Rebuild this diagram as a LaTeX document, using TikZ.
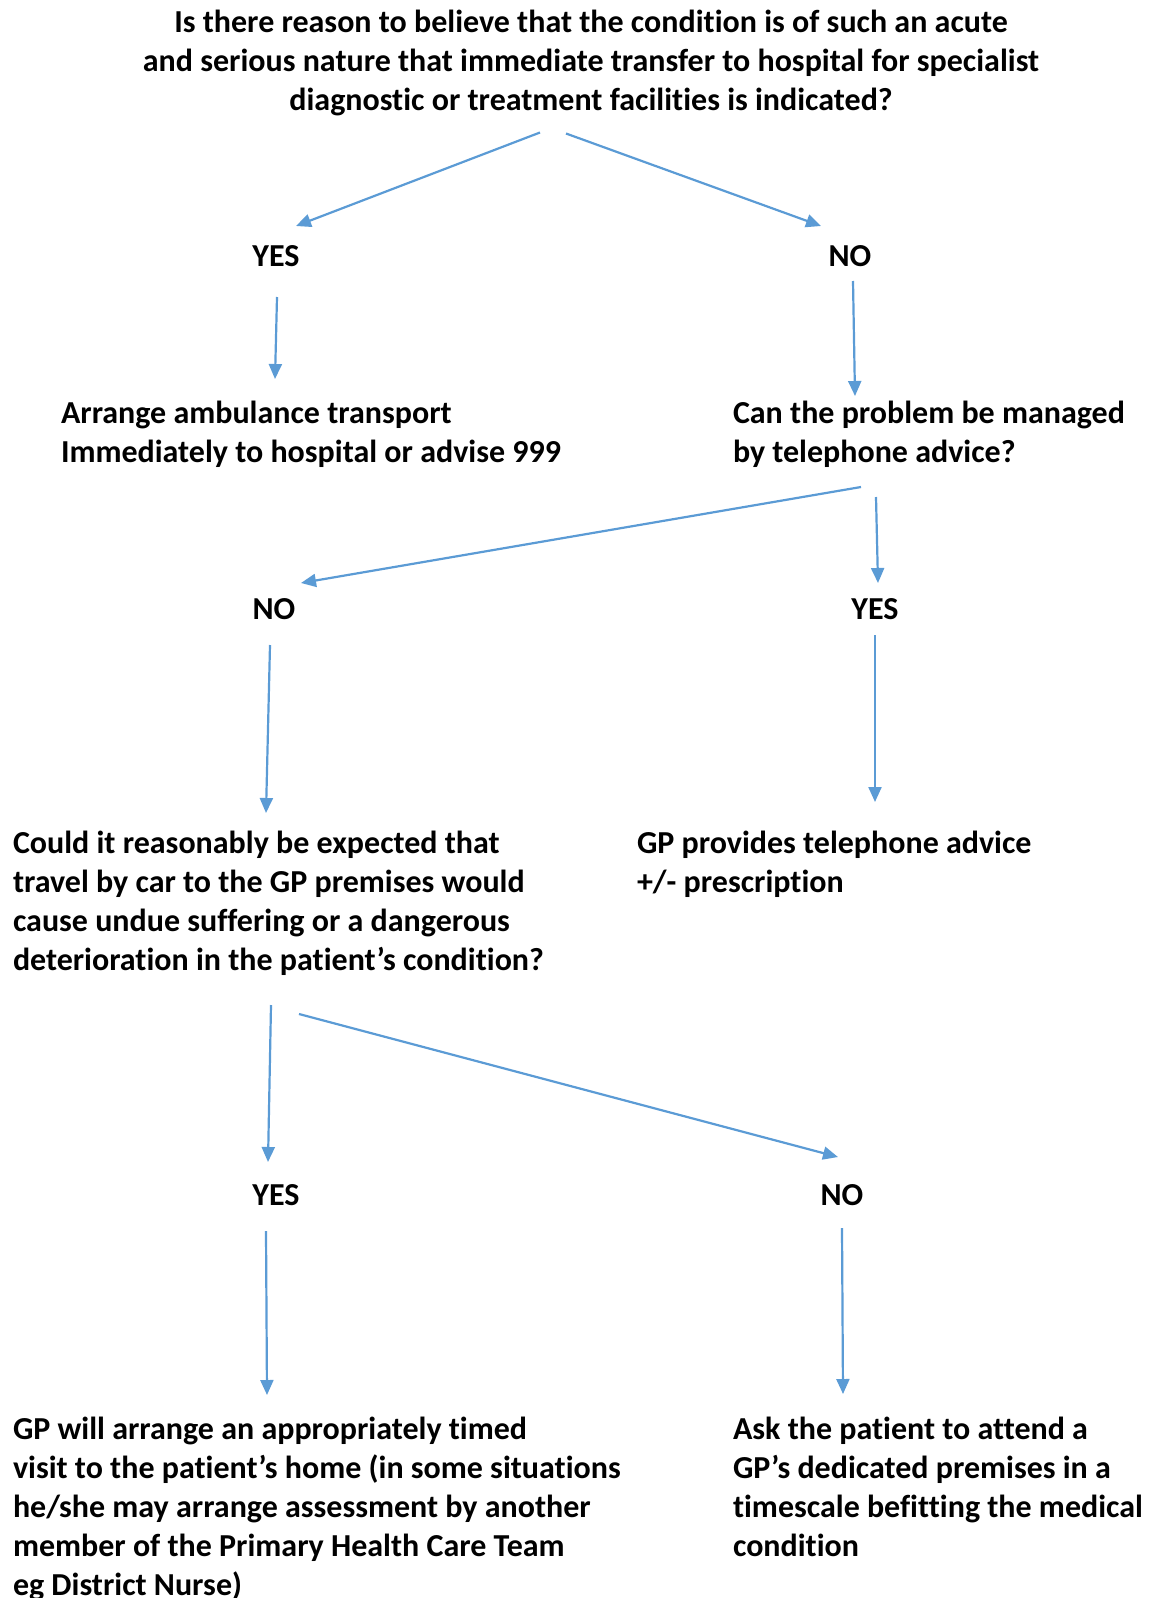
\documentclass[tikz,border=0pt]{standalone}
\usepackage{fontspec}
\setmainfont{Carlito}[Ligatures=NoCommon]
\usetikzlibrary{arrows.meta}
\definecolor{arrowblue}{HTML}{5B9BD5}
\tikzset{
  txt/.style={inner sep=0pt, outer sep=0pt, font=\fontsize{32}{39.1}\selectfont\bfseries},
  lbl/.style={txt, anchor=base},
  para/.style={txt, anchor=base west},
  conn/.style={draw=arrowblue, line width=2.2pt, -{Triangle[length=15pt,width=13pt]}}
}
\begin{document}
\begin{tikzpicture}[x=1pt,y=-1pt]
\useasboundingbox (0,0) rectangle (1153,1598);
% texts
\node[txt, anchor=base] (q1) at (591,32) {\begin{tabular}[t]{@{}c@{}}Is there reason to believe that the condition is of such an acute\\and serious nature that immediate transfer to hospital for specialist\\diagnostic or treatment facilities is indicated?\end{tabular}};
\node[lbl] (yes1) at (276,266) {YES};
\node[lbl] (no1) at (850,266) {NO};
\node[para] (amb) at (61,423) {\begin{tabular}[t]{@{}l@{}}Arrange ambulance transport\\Immediately to hospital or advise 999\end{tabular}};
\node[para] (q2) at (733,423) {\begin{tabular}[t]{@{}l@{}}Can the problem be managed\\by telephone advice?\end{tabular}};
\node[lbl] (no2) at (274,619) {NO};
\node[lbl] (yes2) at (875,619) {YES};
\node[para] (q3) at (13,853) {\begin{tabular}[t]{@{}l@{}}Could it reasonably be expected that\\travel by car to the GP premises would\\cause undue suffering or a dangerous\\deterioration in the patient’s condition?\end{tabular}};
\node[para] (tel) at (637,853) {\begin{tabular}[t]{@{}l@{}}GP provides telephone advice\\+/- prescription\end{tabular}};
\node[lbl] (yes3) at (276,1205) {YES};
\node[lbl] (no3) at (842,1205) {NO};
\node[para] (visit) at (13,1439) {\begin{tabular}[t]{@{}l@{}}GP will arrange an appropriately timed\\visit to the patient’s home (in some situations\\he/she may arrange assessment by another\\member of the Primary Health Care Team\\eg District Nurse)\end{tabular}};
\node[para] (attend) at (733,1439) {\begin{tabular}[t]{@{}l@{}}Ask the patient to attend a\\GP’s dedicated premises in a\\timescale befitting the medical\\condition\end{tabular}};
% connector end points
\coordinate (a1s) at (540,132.5); \coordinate (a1e) at (296,226);
\coordinate (a2s) at (566,133.5); \coordinate (a2e) at (821,226);
\coordinate (a3s) at (277,297);   \coordinate (a3e) at (275,379);
\coordinate (a4s) at (853,281);   \coordinate (a4e) at (855,396);
\coordinate (a5s) at (861,487);   \coordinate (a5e) at (301,583);
\coordinate (a6s) at (876,497);   \coordinate (a6e) at (878,583);
\coordinate (a7s) at (270,645);   \coordinate (a7e) at (266,813);
\coordinate (a8s) at (875,635);   \coordinate (a8e) at (875,802);
\coordinate (a9s) at (271,1005);  \coordinate (a9e) at (268,1162);
\coordinate (a10s) at (299,1014); \coordinate (a10e) at (838,1157);
\coordinate (a11s) at (266,1231); \coordinate (a11e) at (267,1395);
\coordinate (a12s) at (842,1228); \coordinate (a12e) at (843,1394);
% connectors
\draw[conn] (a1s) -- (a1e);
\draw[conn] (a2s) -- (a2e);
\draw[conn] (a3s) -- (a3e);
\draw[conn] (a4s) -- (a4e);
\draw[conn] (a5s) -- (a5e);
\draw[conn] (a6s) -- (a6e);
\draw[conn] (a7s) -- (a7e);
\draw[conn] (a8s) -- (a8e);
\draw[conn] (a9s) -- (a9e);
\draw[conn] (a10s) -- (a10e);
\draw[conn] (a11s) -- (a11e);
\draw[conn] (a12s) -- (a12e);
\end{tikzpicture}
\end{document}
